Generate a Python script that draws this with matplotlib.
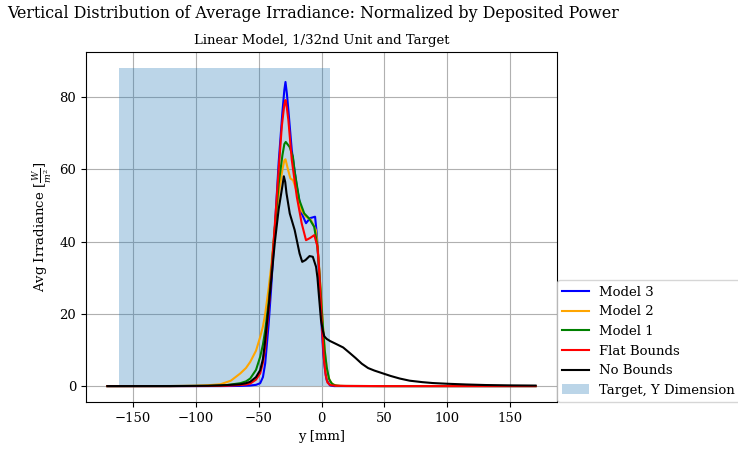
import matplotlib
matplotlib.use("Agg")
import matplotlib.pyplot as plt
import numpy as np

plt.rcParams['font.family'] = ['DejaVu Serif']
plt.rcParams['mathtext.fontset'] = 'dejavuserif'
plt.rcParams['font.size'] = 9.5

# ---- data ----
x_model3 = [-170, -120, -80, -65, -57, -52, -48.7, -46.5, -44.7, -42, -40, -37, -34, -31, -29.5, -28.6,
            -27.5, -26.3, -23.6, -19.6, -15.7, -12.3, -9.1, -5.1, -3.8, -2.5, -1.2, 0.2, 1.4, 2.8, 4.1, 6.7, 10, 20, 50, 100, 170]
y_model3 = [0.0, 0.0, 0.0, 0.05, 0.15, 0.35, 0.8, 2.5, 6.3, 17, 27, 44, 62, 76, 82, 84.2,
            81, 76.4, 65.3, 55.2, 47.8, 45.1, 46.5, 46.9, 42.3, 35, 25.7, 16, 9.1, 4.5, 1.7, 0.2, 0.0, 0.0, 0.0, 0.0, 0.0]

x_model2 = [-170, -120, -100, -90, -80.3, -72, -64.5, -60, -56.6, -52, -48.7, -46.5, -44.7, -42, -40, -37, -34, -31, -29.5, -28.6,
            -26.5, -24.7, -22.6, -20, -16.1, -12.3, -8.4, -4.5, -3, -1.5, 0, 1.5, 3, 4.5, 6.5, 9, 12, 20, 50, 100, 170]
y_model2 = [0.0, 0.02, 0.1, 0.25, 0.5, 1.5, 3.5, 5.0, 6.7, 9.8, 13.6, 16.5, 20, 27, 33, 44, 53, 60, 62.5, 62.8,
            59.8, 57.5, 57, 54.3, 48.7, 46.9, 46, 43.2, 38.5, 31, 23, 15, 8.5, 4.0, 1.5, 0.5, 0.1, 0.0, 0.0, 0.0, 0.0]

x_model1 = [-170, -120, -90, -75, -64.5, -60, -56.6, -52, -48.7, -46.5, -44.7, -42, -40, -37, -34, -31, -29.5, -28.4,
            -25.3, -22.7, -21.5, -17.6, -13.7, -9.8, -5.8, -3.2, -1.8, -0.6, 1.0, 2.5, 4.1, 6, 8.1, 10.7, 15, 50, 100, 170]
y_model1 = [0.0, 0.0, 0.05, 0.3, 0.8, 1.3, 2.1, 4.5, 8.1, 11.5, 15.5, 23, 31, 44, 56, 64, 67, 67.6,
            66.2, 63.5, 59.8, 51.5, 47.8, 46.4, 44.1, 38.6, 32, 25.7, 17, 10, 5.3, 2.0, 0.7, 0.2, 0.05, 0.0, 0.0, 0.0]

x_flat = [-170, -120, -90, -75, -64.5, -60, -56.6, -52, -48.7, -46.5, -44.7, -42, -40, -37, -34, -31.5, -29.5, -28.6,
          -27.5, -26.3, -23.6, -19.6, -15.7, -12.3, -9.1, -5.7, -3.2, -2.0, -0.8, 0.6, 2.0, 3.3, 4.7, 6.5, 8.2, 12, 20, 50, 100, 170]
y_flat = [0.0, 0.0, 0.03, 0.1, 0.3, 0.45, 0.7, 1.8, 3.5, 6.5, 10.9, 21, 30, 45, 60, 72, 78, 79.2,
          77, 73.6, 62.6, 52.4, 45, 40.4, 41, 41.8, 38.6, 33, 25, 15, 7.2, 3.0, 1.0, 0.4, 0.2, 0.1, 0.05, 0.0, 0.0, 0.0]

x_nobounds = [-170, -120, -90, -80, -72, -64.5, -60, -56.6, -52, -48.7, -46.5, -44.7, -42, -40, -37, -34, -31, -29.9,
              -28.8, -27.8, -25.2, -21.3, -17.4, -15.3, -12.7, -9.5, -6.9, -4.3, -3.2, -2.2, -0.4, 1.0, 2.2, 4.0, 6.7, 12, 17.2, 22, 27, 32, 37, 42,
              48.9, 55, 62.1, 70, 80, 88.3, 100, 115, 130, 150, 170]
y_nobounds = [0.0, 0.02, 0.1, 0.2, 0.35, 0.5, 0.8, 1.2, 2.5, 4.4, 7.5, 12.7, 22, 29, 40, 49, 55.5, 58.1,
              56.5, 53.4, 47.8, 43.2, 36.7, 34.4, 34.9, 36, 35.8, 33, 30, 25.7, 18.3, 15.5, 13.8, 13.1, 12.5, 11.6, 10.7, 9.3, 7.8, 6.2, 5.0, 4.3,
              3.5, 2.8, 2.1, 1.5, 1.1, 0.85, 0.65, 0.45, 0.3, 0.2, 0.15]

target_range = [-161, 7]
target_height = 88.2

series_labels = ["Model 3", "Model 2", "Model 1", "Flat Bounds", "No Bounds"]
target_label = "Target, Y Dimension"

# ---- plot ----
fig = plt.figure(figsize=(7.38, 4.5), dpi=100)
ax = fig.add_axes([86/738, 1 - 402/450, (557-86)/738, (402-52)/450])

tgt = ax.fill_between(target_range, [0, 0], [target_height, target_height],
                      color='#1f77b4', alpha=0.3, linewidth=0, label=target_label, zorder=1)

colors = ['blue', 'orange', 'green', 'red', 'black']
xs = [x_model3, x_model2, x_model1, x_flat, x_nobounds]
ys = [y_model3, y_model2, y_model1, y_flat, y_nobounds]
handles = []
for xv, yv, c, lab in zip(xs, ys, colors, series_labels):
    h, = ax.plot(xv, yv, color=c, linewidth=1.5, label=lab, zorder=3)
    handles.append(h)
handles.append(tgt)

ax.grid(True, color='#b0b0b0', linewidth=0.8, zorder=0)
ax.set_axisbelow(True)
ax.set_xlim(-187, 187)
ax.set_ylim(-4.4, 92.5)
ax.set_xticks([-150, -100, -50, 0, 50, 100, 150])
ax.set_yticks([0, 20, 40, 60, 80])
ax.set_xlabel("y [mm]")
ax.set_ylabel(r"Avg Irradiance [$\frac{W}{m^2}$]")
ax.set_title("Linear Model, 1/32nd Unit and Target", fontsize=9.5)
fig.text(313/738, 1 - 14/450, "Vertical Distribution of Average Irradiance: Normalized by Deposited Power",
         ha='center', va='center', fontsize=11.4)

ax.legend(handles=handles, loc='lower left', bbox_to_anchor=(1.0, 0.0), borderaxespad=0.0, frameon=True)

fig.savefig("out.png", dpi=100)
